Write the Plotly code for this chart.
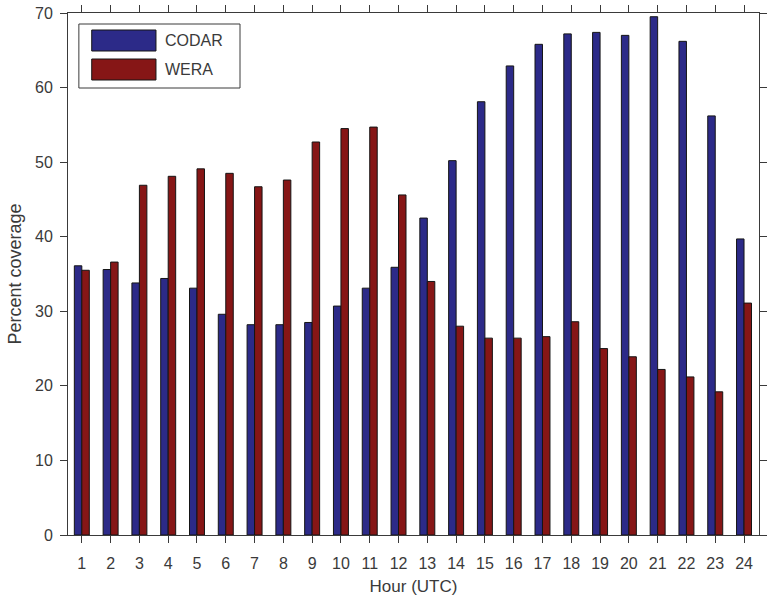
import plotly.graph_objects as go

hours = list(range(1, 25))
codar = [36.1, 35.6, 33.8, 34.4, 33.1, 29.6, 28.2, 28.2, 28.5, 30.7, 33.1, 35.9,
         42.5, 50.2, 58.1, 62.9, 65.8, 67.2, 67.4, 67.0, 69.5, 66.2, 56.2, 39.7]
wera = [35.5, 36.6, 46.9, 48.1, 49.1, 48.5, 46.7, 47.6, 52.7, 54.5, 54.7, 45.6,
        34.0, 28.0, 26.4, 26.4, 26.6, 28.6, 25.0, 23.9, 22.2, 21.2, 19.2, 31.1]
series_names = ["CODAR", "WERA"]
series_colors = ["#2c2a88", "#861616"]

font_family = "Liberation Sans, Arial, sans-serif"
ink = "#3a3a3a"

fig = go.Figure()
for name, vals, col in zip(series_names, [codar, wera], series_colors):
    fig.add_trace(go.Bar(
        x=hours, y=vals, name=name,
        marker=dict(color=col, line=dict(color="#151515", width=1)),
        showlegend=False,
    ))

axis_common = dict(
    showline=True, linecolor=ink, linewidth=1, mirror="ticks",
    ticks="outside", ticklen=7, tickcolor=ink, tickwidth=1,
    showgrid=False, zeroline=False,
    tickfont=dict(family=font_family, size=16, color=ink),
)

fig.update_layout(
    width=771, height=603,
    margin=dict(l=68, r=4, t=13, b=68),
    paper_bgcolor="white", plot_bgcolor="white",
    barmode="group", bargap=0.48, bargroupgap=0.0,
    font=dict(family=font_family, color=ink),
    xaxis=dict(
        range=[0.52, 24.52], tickmode="array", tickvals=hours,
        ticktext=[str(h) for h in hours], ticklabelstandoff=7,
        title=dict(text="Hour (UTC)", font=dict(size=17, family=font_family, color=ink), standoff=8),
        **axis_common,
    ),
    yaxis=dict(
        range=[0, 70], tickmode="array", tickvals=list(range(0, 71, 10)),
        ticklabelstandoff=4,
        title=dict(text="Percent coverage", font=dict(size=18, family=font_family, color=ink), standoff=8),
        **axis_common,
    ),
)

# legend box with large swatches, drawn in paper coordinates
def px_x(px):
    return (px - 68) / (767 - 68)

def px_y(py):
    return (535 - py) / (535 - 13)

fig.add_shape(type="rect", xref="paper", yref="paper",
              x0=px_x(79), x1=px_x(242), y0=px_y(88), y1=px_y(24),
              line=dict(color=ink, width=1), fillcolor="white")
for i, (name, col) in enumerate(zip(series_names, series_colors)):
    top = 30 + i * 29
    fig.add_shape(type="rect", xref="paper", yref="paper",
                  x0=px_x(92), x1=px_x(157), y0=px_y(top + 21), y1=px_y(top),
                  line=dict(color="#151515", width=1), fillcolor=col)
    fig.add_annotation(xref="paper", yref="paper", x=px_x(164), y=px_y(top + 10.5),
                       text=name, showarrow=False, xanchor="left", yanchor="middle",
                       font=dict(family=font_family, size=16, color=ink))

fig.write_html("out.html")
